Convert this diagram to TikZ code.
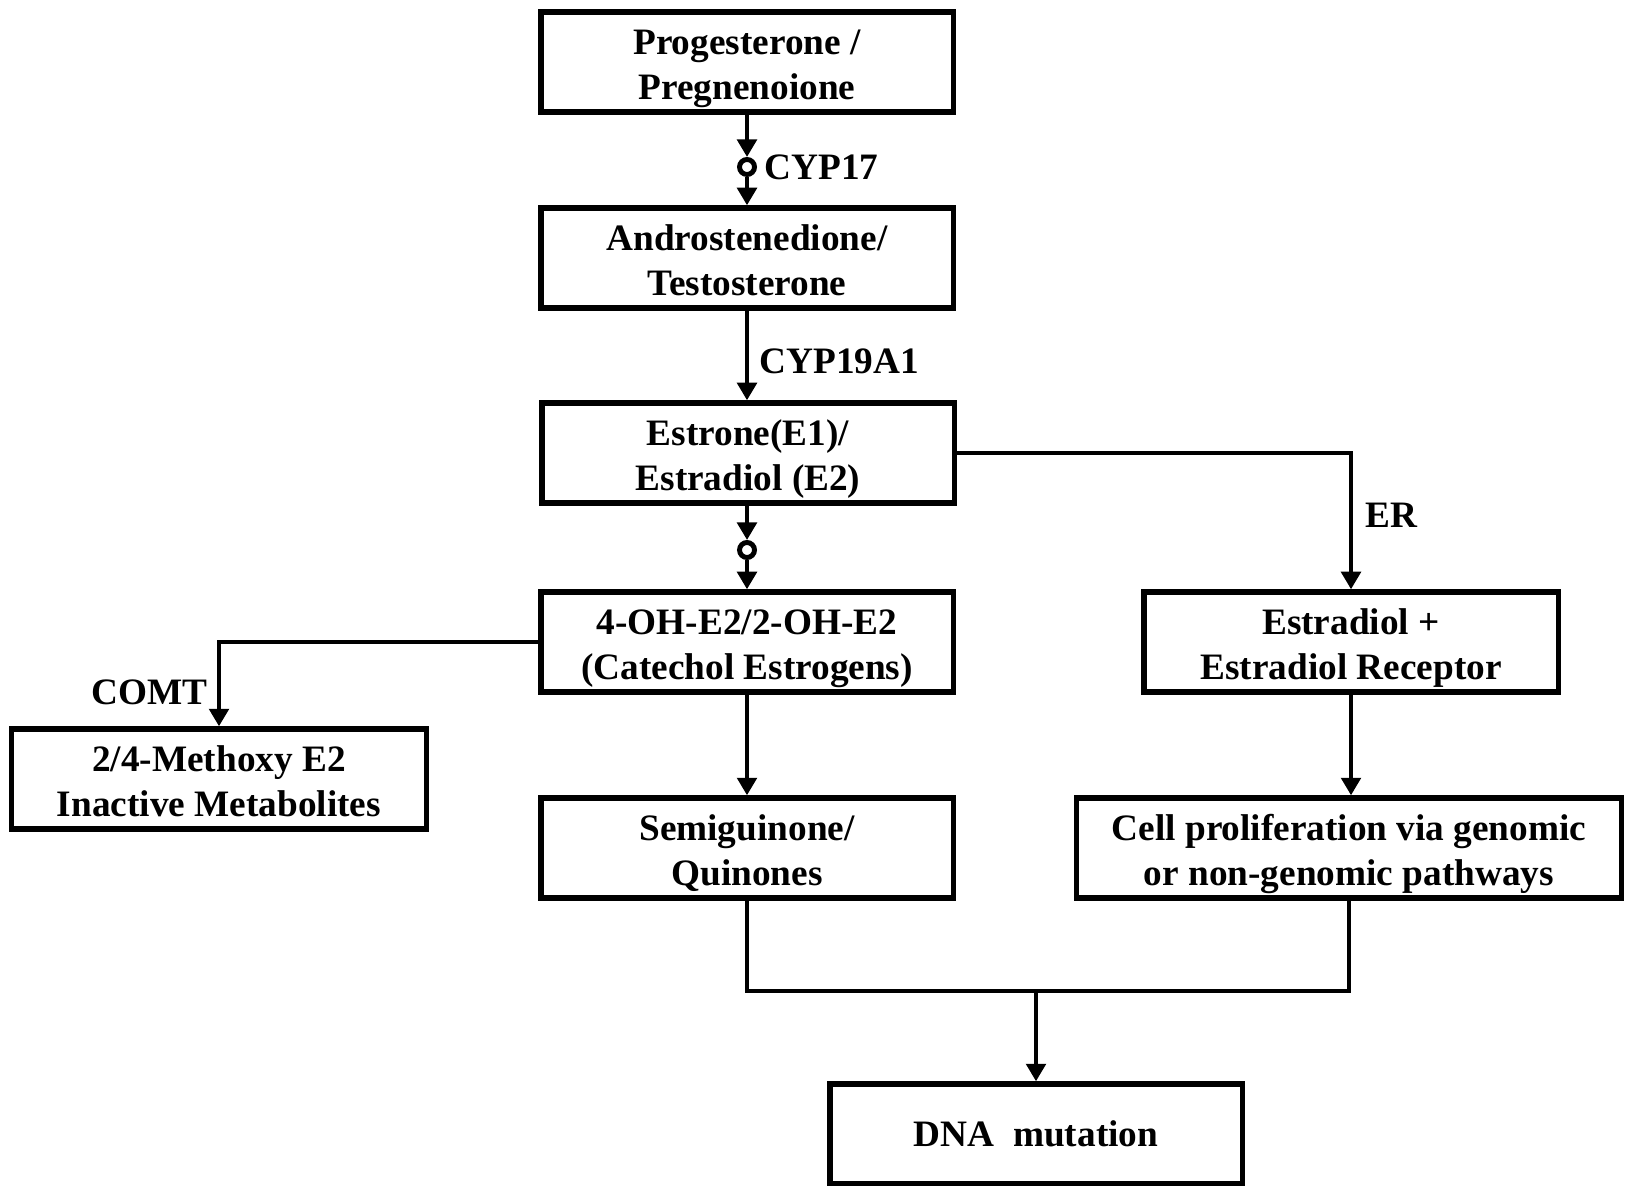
\documentclass[tikz,border=0pt]{standalone}
\usepackage{fontspec}
\setmainfont{Liberation Serif}
\usetikzlibrary{arrows.meta,positioning}
\tikzset{
  box/.style={draw, line width=1.5pt, minimum width=4.12cm, minimum height=1cm,
    align=center, inner sep=0pt, text height=23.4pt, text depth=2pt,
    font=\fontsize{10.6}{12.8}\selectfont\bfseries},
  lbl/.style={inner sep=0pt, font=\fontsize{10.6}{13}\selectfont\bfseries},
  flow/.style={line width=1.4pt, -{Triangle[length=5pt,width=5.5pt]}},
  link/.style={line width=1.4pt},
  ring/.style={circle, draw, fill=white, line width=1.4pt, minimum size=0.15cm, inner sep=0pt}
}
\begin{document}
\begin{tikzpicture}[x=0.01cm, y=-0.01cm]
     \useasboundingbox (0,0) rectangle (1625,1186);
     % boxes
     \node[box] (prog) at (747,62) {Progesterone /\\Pregnenoione};
     \node[box] (andro) at (747,258) {Androstenedione/\\Testosterone};
     \node[box] (estr) at (748,453) {Estrone(E1)/\\Estradiol (E2)};
     \node[box] (cat) at (747,642) {4-OH-E2/2-OH-E2\\(Catechol Estrogens)};
     \node[box, minimum width=4.15cm] (meth) at (219,779) {2/4-Methoxy E2\\Inactive Metabolites};
     \node[box] (semi) at (747,848) {Semiguinone/\\Quinones};
     \node[box, minimum width=4.14cm] (estrer) at (1351,642) {Estradiol +\\Estradiol Receptor};
     \node[box, minimum width=5.45cm] (cell) at (1349,848) {Cell proliferation via genomic\\or non-genomic pathways};
     \node[box, text height=7pt, text depth=0pt] (dna) at (1036,1134) {DNA~~mutation};
     % rings on the main line
     \node[ring] (c1) at (747,167) {};
     \node[ring] (c2) at (747,550) {};
     % labels
     \node[lbl, anchor=west] (cyp17) at (764,167) {CYP17};
     \node[lbl, anchor=west] (cyp19) at (759,361) {CYP19A1};
     \node[lbl, anchor=west] (er) at (1365,515) {ER};
     \node[lbl, anchor=east] (comt) at (208,692) {COMT};
     \coordinate (j) at (1036,991);
     % connectors
     \draw[flow] (prog.south) -- (c1);
     \draw[flow] (c1) -- (andro.north);
     \draw[flow] (andro.south) -- (andro.south |- estr.north);
     \draw[flow] (estr.south -| c2) -- (c2);
     \draw[flow] (c2) -- (cat.north);
     \draw[flow] (estr.east) -| (estrer.north);
     \draw[flow] (cat.west) -| (meth.north);
     \draw[flow] (cat.south) -- (semi.north);
     \draw[flow] (estrer.south) -- (estrer.south |- cell.north);
     \draw[link] (semi.south) |- (j) -| (cell.south);
     \draw[flow] (j) -- (dna.north);
\end{tikzpicture}
\end{document}
